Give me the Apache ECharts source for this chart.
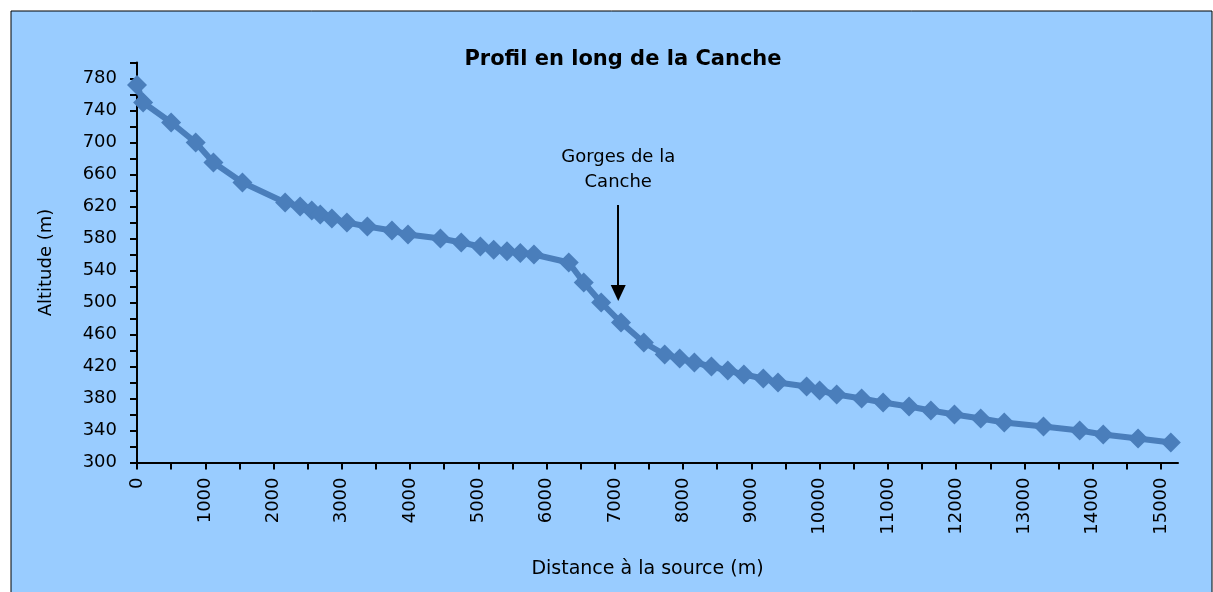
<!DOCTYPE html>
<html>
<head>
<meta charset="utf-8">
<title>Profil en long de la Canche</title>
<script src="https://cdn.jsdelivr.net/npm/echarts@6/dist/echarts.min.js"></script>
<style>
  html, body { margin: 0; padding: 0; background: #fff; }
  #chart { width: 1213px; height: 592px; }
</style>
</head>
<body>
<div id="chart"></div>
<script>
// distance a la source (m)
const distances = [0, 90, 500, 860, 1120, 1545, 2170, 2390, 2560, 2685,
  2855, 3075, 3375, 3735, 3970, 4445, 4750, 5030, 5225, 5420,
  5615, 5815, 6325, 6545, 6800, 7090, 7425, 7730, 7950, 8165,
  8415, 8655, 8890, 9175, 9390, 9810, 10000, 10250, 10615, 10930,
  11310, 11630, 11975, 12360, 12705, 13280, 13810, 14155, 14665, 15145]
// altitude (m)
const altitudes = [772, 750, 725, 700, 675, 650, 625, 620, 615, 610,
  605, 600, 595, 590, 585, 580, 575, 570, 566, 564,
  562, 560, 550, 525, 500, 475, 450, 435, 430, 425,
  420, 415, 410, 405, 400, 395, 390, 385, 380, 375,
  370, 365, 360, 355, 350, 345, 340, 335, 330, 325]

const xLabelValues = [0, 1000, 2000, 3000, 4000, 5000, 6000, 7000, 8000, 9000, 10000, 11000, 12000, 13000, 14000, 15000]
const xTickValues = [0, 500, 1000, 1500, 2000, 2500, 3000, 3500, 4000, 4500, 5000, 5500, 6000, 6500, 7000, 7500,
  8000, 8500, 9000, 9500, 10000, 10500, 11000, 11500, 12000, 12500, 13000, 13500, 14000, 14500, 15000]
const yLabelValues = [300, 340, 380, 420, 460, 500, 540, 580, 620, 660, 700, 740, 780]
const yTickValues = [300, 320, 340, 360, 380, 400, 420, 440, 460, 480, 500, 520, 540, 560, 580, 600,
  620, 640, 660, 680, 700, 720, 740, 760, 780, 800]

// annotation : gorges de la Canche
const gorgeText = 'Gorges de la\nCanche'
const gorgeArrow = { x: 7050, from: 622, to: 512 }

const chart = echarts.init(document.getElementById('chart'))
const font = 'DejaVu Sans'

const option = {
  backgroundColor: '#ffffff',
  animation: false,
  textStyle: { fontFamily: font, color: '#000' },
  graphic: [
    {
      type: 'rect',
      z: -10,
      shape: { x: 11, y: 11, width: 1201, height: 600 },
      style: { fill: '#99CCFF', stroke: '#000', lineWidth: 1 }
    }
  ],
  title: {
    text: 'Profil en long de la Canche',
    left: 618,
    top: 44,
    textAlign: 'center',
    textStyle: { fontFamily: font, fontSize: 21, fontWeight: 'bold', color: '#000' }
  },
  grid: {
    left: 137,
    right: 35,
    top: 62.5,
    bottom: 129.5,
    containLabel: false
  },
  xAxis: {
    type: 'value',
    min: 0,
    max: 15250,
    name: 'Distance à la source (m)',
    nameLocation: 'middle',
    nameGap: 97,
    nameTextStyle: { fontFamily: font, fontSize: 19, color: '#000', padding: [0, 20, 0, 0] },
    splitLine: { show: false },
    axisLine: { show: true, onZero: false, lineStyle: { color: '#000', width: 2 } },
    axisTick: { show: true, customValues: xTickValues, length: 7, lineStyle: { color: '#000', width: 2 } },
    axisLabel: {
      customValues: xLabelValues,
      rotate: 90,
      margin: 15,
      fontFamily: font,
      fontSize: 18,
      color: '#000',
      formatter: (v) => String(v)
    }
  },
  yAxis: {
    type: 'value',
    min: 300,
    max: 800,
    name: 'Altitude (m)',
    nameLocation: 'middle',
    nameGap: 82,
    nameTextStyle: { fontFamily: font, fontSize: 18, color: '#000' },
    splitLine: { show: false },
    axisLine: { show: true, onZero: false, lineStyle: { color: '#000', width: 2 } },
    axisTick: { show: true, customValues: yTickValues, length: 7, lineStyle: { color: '#000', width: 2 } },
    axisLabel: {
      customValues: yLabelValues,
      margin: 20,
      fontFamily: font,
      fontSize: 18,
      color: '#000',
      formatter: (v) => String(v)
    }
  },
  series: [
    {
      name: 'Altitude',
      type: 'line',
      data: distances.map((d, i) => [d, altitudes[i]]),
      clip: false,
      symbol: 'diamond',
      symbolSize: 20,
      lineStyle: { color: '#4A7EBB', width: 6 },
      itemStyle: { color: '#4A7EBB' },
      markLine: {
        silent: true,
        symbol: ['none', 'triangle'],
        symbolSize: [15, 16],
        lineStyle: { color: '#000', width: 2, type: 'solid' },
        label: {
          show: true,
          position: 'start',
          distance: 10,
          formatter: gorgeText,
          fontFamily: font,
          fontSize: 18,
          lineHeight: 25,
          color: '#000',
          align: 'center'
        },
        data: [
          [
            { coord: [gorgeArrow.x, gorgeArrow.from] },
            { coord: [gorgeArrow.x, gorgeArrow.to] }
          ]
        ]
      }
    }
  ]
}

chart.setOption(option)
</script>
</body>
</html>
